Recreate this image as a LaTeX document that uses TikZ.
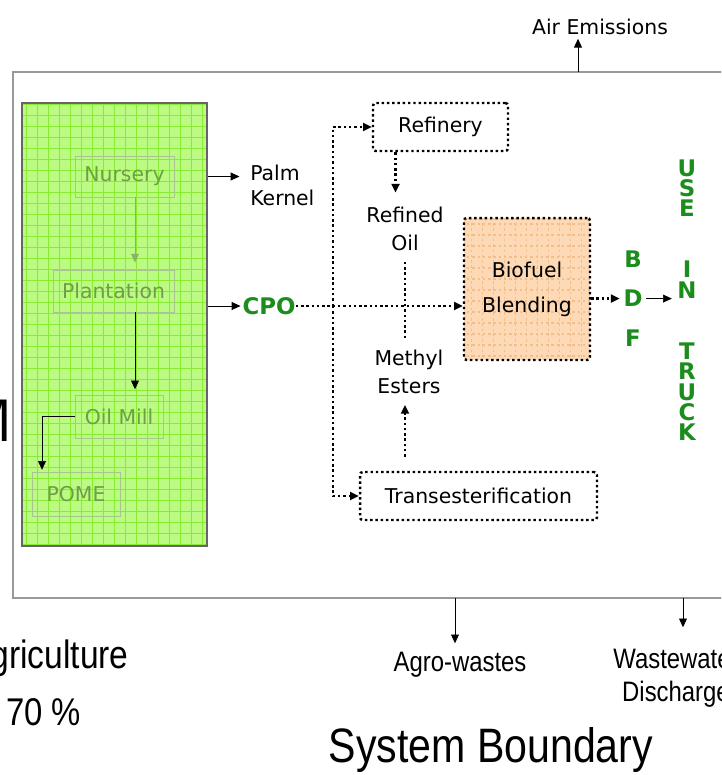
\documentclass[tikz,border=0pt]{standalone}
\usepackage{fontspec}
\setmainfont{DejaVu Sans}
\newfontfamily\narrowfont[FakeStretch=0.85]{Liberation Sans}
\usetikzlibrary{arrows.meta,positioning,calc}

\definecolor{leafgreen}{HTML}{BBFB84}
\definecolor{leafgrid}{HTML}{8AEC32}
\definecolor{leaftext}{HTML}{6E9F45}
\definecolor{peach}{HTML}{FDD9B5}
\definecolor{peachgrid}{HTML}{F2BF8C}
\definecolor{fuelgreen}{HTML}{1C8C1C}

\begin{document}
\begin{tikzpicture}[x=0.02cm, y=-0.02cm,
  lbl/.style={font=\fontsize{11.6}{16}\selectfont, align=center, inner sep=0pt},
  stage/.style={draw=leaftext!60, line width=0.5pt, text=leaftext, font=\fontsize{11.6}{14}\selectfont},
  flow/.style={line width=1.4pt, dash pattern=on 1.4pt off 1.6pt},
  unit/.style={draw, flow, rounded corners=1.5pt, font=\fontsize{11.6}{14}\selectfont},
  tip/.style={-{Triangle[length=5pt,width=4.5pt]}},
  fuel/.style={text=fuelgreen, font=\fontsize{13}{11.6}\selectfont\bfseries, align=center, inner sep=0pt},
  outer/.style={font=\narrowfont\fontsize{16}{19}\selectfont, align=center, inner sep=0pt},
  boundary/.style={draw=black!40, line width=1.2pt},
  % squared paper fill, 11 units a cell, around the node centre
  squared/.style={path picture={\foreach \g in {-396,-385,...,396}
    {\draw[#1, line width=0.8pt] (\g,-400) -- (\g,400) (-400,\g) -- (400,\g);}}}
]
\clip (0,0) rectangle (721,775);

% system boundary and its outputs
\draw[boundary] (13,72) rectangle (760,598);
\coordinate (airout) at (578,72);
\coordinate (agroout) at (455,598);
\coordinate (wasteout) at (683,598);
\node[lbl] (air) at (600,27) {Air Emissions};
\node[outer] (agro) at (460,665) {Agro-wastes};
\node[outer] (waste) at (676,678) {Wastewater\\Discharge};
\draw[thin, tip, shorten >=2pt] (airout) -- (airout |- air.south);
\draw[thin, tip, shorten >=5pt] (agroout) -- (agroout |- agro.north);
\draw[thin, tip, shorten >=12pt] (wasteout) -- (wasteout |- waste.north);

\node[outer, anchor=east, font=\narrowfont\fontsize{22.5}{24}\selectfont] (agri) at (129,658) {Agriculture};
\node[outer, anchor=west, font=\narrowfont\fontsize{22}{24}\selectfont] (share) at (6,712) {70 \%};
\node[outer, anchor=east, font=\fontsize{34}{36}\selectfont\sffamily] (sideM) at (13,421) {M};
\node[outer, font=\narrowfont\fontsize{27.5}{30}\selectfont] (sysb) at (491,750) {System Boundary};

% plantation and mill
\node[draw=black!60, line width=1pt, fill=leafgreen, squared=leafgrid,
  minimum width=3.7cm, minimum height=8.86cm] (farm) at (114.5,324.5) {};
\node[stage, minimum width=1.98cm, minimum height=0.82cm] (nursery) at (124.5,176.5) {Nursery};
\node[stage, minimum width=2.42cm, minimum height=0.84cm] (plant) at (113.5,291) {Plantation};
\node[stage, minimum width=1.76cm, minimum height=0.86cm] (mill) at (119,416.5) {Oil Mill};
\node[stage, minimum width=1.76cm, minimum height=0.88cm] (pome) at (76,494) {POME};
\draw[leaftext!80, thin, tip, shorten >=4pt] ([xshift=0.21cm]nursery.south) -- ([xshift=0.21cm]nursery.south |- plant.north);
\draw[thin, tip, shorten >=3pt] ([xshift=0.43cm]plant.south) -- ([xshift=0.43cm]plant.south |- mill.north);
\draw[thin, tip, shorten >=1pt] (mill.west) -| ([xshift=-0.68cm]pome.north);

% products of the mill
\node[lbl, anchor=west, align=left, font=\fontsize{11.6}{14.2}\selectfont] (kernel) at (250,185) {Palm\\Kernel};
\node[fuel] (cpo) at (269,306) {CPO};
\draw[thin, tip, shorten >=6pt] (farm.east |- nursery) -- (nursery -| kernel.west);
\draw[thin, tip, shorten >=1pt] (farm.east |- cpo) -- (cpo.west);

% conversion routes
\node[unit, minimum width=2.7cm, minimum height=0.96cm] (refinery) at (440.5,127) {Refinery};
\node[unit, minimum width=4.74cm, minimum height=0.96cm] (trans) at (478.5,496) {Transesterification};
\node[unit, fill=peach, squared=peachgrid, minimum width=2.52cm, minimum height=2.84cm, align=center,
  font=\fontsize{11.6}{20}\selectfont] (blend) at (527,289) {Biofuel\\Blending};
\node[lbl] (refined) at (405,229) {Refined\\Oil};
\node[lbl] (methyl) at (409,372) {Methyl\\Esters};
\coordinate (split) at (333,306);

\draw[flow, tip] (cpo.east) -- (cpo.east -| blend.west);
\draw[flow, tip] (split) |- (refinery.west);
\draw[flow, tip] (split) |- (trans.west);
\draw[flow, tip, shorten >=8pt] ([xshift=-0.9cm]refinery.south) -- ([xshift=-0.9cm]refinery.south |- refined.north);
\draw[flow, shorten <=6pt, shorten >=6pt] (refined.south) -- (refined.south |- methyl.north);
\draw[flow, tip, shorten <=8pt, shorten >=6pt] (trans.north -| refined) -- (refined |- methyl.south);

% blended fuel to end use
\node[fuel, anchor=north, font=\fontsize{13}{22.7}\selectfont\bfseries] (bdf) at (633,250) {B\\D\\F};
\node[fuel, anchor=north] (use) at (687,159) {U\\S\\E\\[23.2pt]I\\N\\[23.2pt]T\\R\\U\\C\\K};
\draw[flow, tip, shorten >=2pt] (blend.east |- bdf) -- (bdf.west);
\draw[thin, tip, shorten <=2pt, shorten >=3pt] (bdf.east) -- (bdf.east -| use.west);
\end{tikzpicture}
\end{document}
